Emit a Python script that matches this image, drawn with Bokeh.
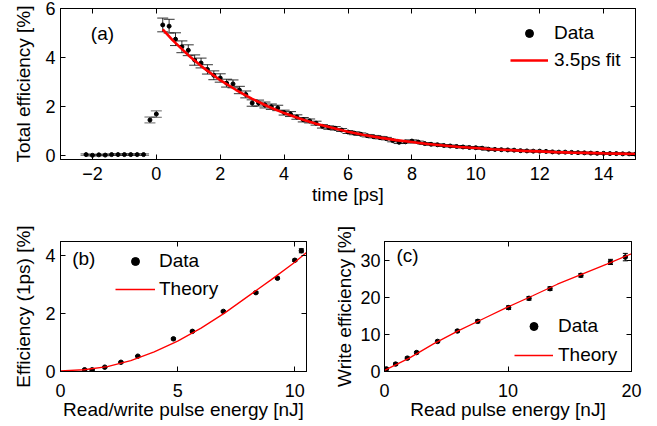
from bokeh.plotting import figure
from bokeh.models import (ColumnDataSource, Whisker, TeeHead, LinearAxis, FixedTicker,
                          Legend, LegendItem, Range1d, Label)
from bokeh.layouts import column, row
from bokeh.embed import file_html
from bokeh.resources import INLINE

FONT = "Liberation Sans"

# ---------------- panel (a) ----------------
a_pre_t = [-2.2, -2.0, -1.8, -1.6, -1.4, -1.2, -1.0, -0.8, -0.6, -0.4, -0.2, 0.0]
a_pre_val = [0.05, 0.02, 0.04, 0.03, 0.05, 0.05, 0.05, 0.05, 0.05, 0.05, 1.46, 1.70]
a_pre_err = [0.03, 0.03, 0.03, 0.03, 0.03, 0.03, 0.03, 0.03, 0.03, 0.03, 0.12, 0.13]

a_t = [0.2, 0.4, 0.6, 0.8, 1.0, 1.2, 1.4, 1.6, 1.8, 2.0,
       2.2, 2.4, 2.6, 2.8, 3.0, 3.2, 3.4, 3.6, 3.8, 4.0,
       4.2, 4.4, 4.6, 4.8, 5.0, 5.2, 5.4, 5.6, 5.8, 6.0,
       6.2, 6.4, 6.6, 6.8, 7.0, 7.2, 7.4, 7.6, 7.8, 8.0,
       8.2, 8.4, 8.6, 8.8, 9.0, 9.2, 9.4, 9.6, 9.8, 10.0,
       10.2, 10.4, 10.6, 10.8, 11.0, 11.2, 11.4, 11.6, 11.8, 12.0,
       12.2, 12.4, 12.6, 12.8, 13.0, 13.2, 13.4, 13.6, 13.8, 14.0,
       14.2, 14.4, 14.6, 14.8, 15.0]
a_val = [5.33, 5.28, 4.75, 4.44, 4.30, 3.90, 3.78, 3.52, 3.28, 3.17,
         2.96, 2.93, 2.68, 2.50, 2.15, 2.15, 2.07, 2.00, 1.95, 1.76,
         1.70, 1.58, 1.47, 1.42, 1.33, 1.20, 1.15, 1.12, 1.05, 0.97,
         0.92, 0.88, 0.82, 0.78, 0.74, 0.70, 0.62, 0.55, 0.57, 0.60,
         0.56, 0.50, 0.47, 0.45, 0.42, 0.40, 0.38, 0.36, 0.34, 0.33,
         0.31, 0.27, 0.26, 0.25, 0.24, 0.23, 0.21, 0.20, 0.19, 0.19,
         0.18, 0.16, 0.15, 0.15, 0.14, 0.13, 0.12, 0.11, 0.10, 0.10,
         0.09, 0.09, 0.08, 0.08, 0.07]
a_err = [0.28, 0.28, 0.26, 0.24, 0.22, 0.21, 0.20, 0.19, 0.18, 0.17,
         0.16, 0.16, 0.15, 0.14, 0.13, 0.12, 0.12, 0.11, 0.11, 0.10,
         0.10, 0.09, 0.09, 0.08, 0.08, 0.07, 0.07, 0.07, 0.06, 0.06,
         0.06, 0.05, 0.05, 0.05, 0.05, 0.05, 0.05, 0.05, 0.05, 0.05,
         0.04, 0.04, 0.04, 0.04, 0.04, 0.04, 0.04, 0.04, 0.04, 0.04,
         0.04, 0.04, 0.04, 0.03, 0.03, 0.03, 0.03, 0.03, 0.03, 0.03,
         0.03, 0.03, 0.03, 0.03, 0.03, 0.03, 0.03, 0.03, 0.03, 0.03,
         0.03, 0.03, 0.03, 0.03, 0.03]

fit_t = [0.2, 0.5, 1.0, 1.5, 2.0, 2.5, 3.0, 3.5, 4.0, 4.5, 5.0, 5.5, 6.0, 6.5, 7.0, 7.5,
         8.0, 8.5, 9.0, 9.5, 10.0, 10.5, 11.0, 11.5, 12.0, 12.5, 13.0, 13.5, 14.0, 14.5, 15.0]
fit_val = [5.15, 4.72, 4.10, 3.56, 3.08, 2.68, 2.32, 2.01, 1.74, 1.51, 1.31, 1.14, 0.98, 0.85,
           0.74, 0.64, 0.56, 0.48, 0.42, 0.36, 0.32, 0.27, 0.24, 0.20, 0.18, 0.15, 0.13, 0.12,
           0.10, 0.09, 0.075]

a_xticks = [-2, 0, 2, 4, 6, 8, 10, 12, 14]
a_yticks = [0, 2, 4, 6]

# ---------------- panel (b) ----------------
b_x = [1.03, 1.35, 1.89, 2.58, 3.30, 4.82, 5.63, 6.95, 8.34, 9.26, 10.0, 10.28]
b_y = [0.06, 0.06, 0.15, 0.32, 0.53, 1.13, 1.39, 2.08, 2.73, 3.23, 3.85, 4.18]
b_err = [0.02, 0.02, 0.02, 0.02, 0.02, 0.03, 0.03, 0.03, 0.03, 0.03, 0.04, 0.07]
b_th_x = [0, 1, 2, 3, 4, 5, 6, 7, 8, 9, 10, 10.5]
b_th_y = [0.02, 0.06, 0.17, 0.38, 0.68, 1.05, 1.50, 2.02, 2.60, 3.18, 3.78, 4.12]
b_xticks = [0, 5, 10]
b_yticks = [0, 2, 4]

# ---------------- panel (c) ----------------
c_x = [0.15, 0.9, 1.85, 2.6, 4.3, 5.9, 7.55, 10.05, 11.7, 13.4, 15.9, 18.3, 19.5]
c_y = [0.7, 2.0, 3.6, 5.1, 8.1, 10.9, 13.5, 17.2, 19.7, 22.3, 25.9, 29.5, 30.8]
c_err = [0.3, 0.3, 0.3, 0.3, 0.3, 0.3, 0.4, 0.5, 0.5, 0.5, 0.5, 0.7, 1.0]
c_th_x = [0, 2, 4, 6, 8, 10, 12, 14, 16, 18, 20]
c_th_y = [0.3, 3.6, 7.5, 11.0, 14.2, 17.4, 20.4, 23.5, 26.2, 28.9, 31.7]
c_xticks = [0, 10, 20]
c_yticks = [0, 10, 20, 30]

TICK_FS = "18px"
LABEL_FS = "19px"


def style(p, xticks, yticks, xlabel, ylabel, xtick_st, xstand, ytick_st, ystand, xover=None):
    p.outline_line_color = "black"
    p.outline_line_width = 1
    p.outline_line_alpha = 1
    p.xgrid.grid_line_color = None
    p.ygrid.grid_line_color = None
    p.background_fill_color = "white"
    p.border_fill_color = "white"
    bottom = p.below[0]
    left = p.left[0]
    top = LinearAxis(ticker=FixedTicker(ticks=xticks),
                     major_label_overrides={t: "" for t in xticks})
    right = LinearAxis(ticker=FixedTicker(ticks=yticks),
                       major_label_overrides={t: "" for t in yticks})
    p.add_layout(right, "right")
    p.add_layout(top, "above")
    bottom.ticker = FixedTicker(ticks=xticks)
    left.ticker = FixedTicker(ticks=yticks)
    for ax in (bottom, left, top, right):
        ax.major_tick_in = 5
        ax.major_tick_out = 0
        ax.minor_tick_line_color = None
        ax.major_tick_line_color = "black"
        ax.axis_line_color = "black"
        ax.major_label_text_font = FONT
        ax.major_label_text_font_size = TICK_FS
        ax.major_label_text_color = "black"
        ax.axis_label_text_font = FONT
        ax.axis_label_text_font_size = LABEL_FS
        ax.axis_label_text_font_style = "normal"
        ax.axis_label_text_color = "black"
    top.major_label_standoff = 0
    right.major_label_standoff = 0
    bottom.major_label_standoff = xtick_st
    left.major_label_standoff = ytick_st
    bottom.axis_label = xlabel
    bottom.axis_label_standoff = xstand
    left.axis_label = ylabel
    left.axis_label_standoff = ystand
    if xover:
        bottom.major_label_overrides = xover


def errbars(p, xs, ys, es, head, width=1, alpha=1.0):
    src = ColumnDataSource(dict(x=xs, up=[y + e for y, e in zip(ys, es)],
                                lo=[y - e for y, e in zip(ys, es)]))
    w = Whisker(source=src, base="x", upper="up", lower="lo", dimension="height",
                line_color="black", line_width=width, line_alpha=alpha,
                upper_head=TeeHead(size=head, line_color="black", line_width=width, line_alpha=alpha),
                lower_head=TeeHead(size=head, line_color="black", line_width=width, line_alpha=alpha))
    p.add_layout(w)


def legend(items, loc, spacing, gw, standoff):
    return Legend(items=[LegendItem(label=t, renderers=[r]) for t, r in items],
                  location=loc, padding=0, margin=0, spacing=spacing, glyph_width=gw,
                  glyph_height=20, label_height=20, label_standoff=standoff,
                  border_line_alpha=0, background_fill_alpha=0,
                  label_text_font=FONT, label_text_font_size=LABEL_FS,
                  label_text_color="black")


# ---------- figure (a) ----------
pa = figure(width=650, height=215, x_range=Range1d(-3, 15), y_range=Range1d(-0.15, 6),
            output_backend="svg", toolbar_location=None,
            min_border_left=60, min_border_right=15, min_border_top=8, min_border_bottom=56)
style(pa, a_xticks, a_yticks, "time [ps]", "Total efficiency [%]", 7, 1, 5, 8, {-2: "\u22122"})

errbars(pa, a_pre_t, a_pre_val, a_pre_err, 11, 1, 0.6)
errbars(pa, a_t, a_val, a_err, 11, 1, 0.8)
pa.scatter(a_pre_t, a_pre_val, size=4, color="black")
r_dots = pa.scatter(a_t, a_val, size=4, color="black")
r_fit = pa.line(fit_t, fit_val, line_color="#ff0000", line_width=2.6)
pa.add_layout(Label(x=-2.05, y=5.0, text="(a)", text_font=FONT, text_font_size=LABEL_FS,
                    text_baseline="middle", text_align="left", text_color="black"))
pa.add_layout(legend([("Data", r_dots), ("3.5ps fit", r_fit)], (450, 88), 5, 38, 6))

# ---------- figure (b) ----------
pb = figure(width=330, height=207, x_range=Range1d(0, 10.5), y_range=Range1d(0, 4.5),
            output_backend="svg", toolbar_location=None,
            min_border_left=60, min_border_right=24, min_border_top=26, min_border_bottom=50)
style(pb, b_xticks, b_yticks, "Read/write pulse energy [nJ]", "Efficiency (1ps) [%]", 12, -1, 5, 8)
errbars(pb, b_x, b_y, b_err, 5)
rb_dots = pb.scatter(b_x, b_y, size=4.5, color="black")
rb_th = pb.line(b_th_x, b_th_y, line_color="#ff0000", line_width=1.3)
pb.add_layout(Label(x=0.5, y=3.91, text="(b)", text_font=FONT, text_font_size=LABEL_FS,
                    text_baseline="middle", text_align="left", text_color="black"))
pb.add_layout(legend([("Data", rb_dots), ("Theory", rb_th)], (55, 71), 6, 40, 4))

# ---------- figure (c) ----------
pc = figure(width=327, height=207, x_range=Range1d(0, 20), y_range=Range1d(0, 35),
            output_backend="svg", toolbar_location=None,
            min_border_left=54, min_border_right=26, min_border_top=26, min_border_bottom=50)
style(pc, c_xticks, c_yticks, "Read pulse energy [nJ]", "Write efficiency [%]", 12, -1, 4, 2)
errbars(pc, c_x, c_y, c_err, 5)
rc_dots = pc.scatter(c_x, c_y, size=4.5, color="black")
rc_th = pc.line(c_th_x, c_th_y, line_color="#ff0000", line_width=1.3)
pc.add_layout(Label(x=0.97, y=31.2, text="(c)", text_font=FONT, text_font_size=LABEL_FS,
                    text_baseline="middle", text_align="left", text_color="black"))
pc.add_layout(legend([("Data", rc_dots), ("Theory", rc_th)], (130, 5), 7, 39, 5))

layout = column(pa, row(pb, pc, spacing=0), spacing=0)
open("out.html", "w").write(file_html(layout, INLINE))
